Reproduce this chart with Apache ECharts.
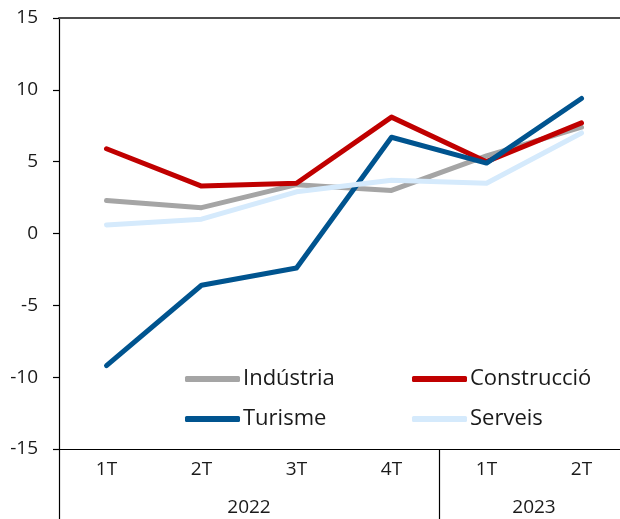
<!DOCTYPE html>
<html>
<head>
<meta charset="utf-8">
<script src="https://cdn.jsdelivr.net/npm/echarts@6/dist/echarts.min.js"></script>
<style>
  html, body { margin: 0; padding: 0; background: #fff; overflow: hidden; }
  #chart { width: 633px; height: 519px; }
</style>
</head>
<body>
<div id="chart"></div>
<script>
// Quarterly year-on-year change by sector (%)
const quarters = ['1T', '2T', '3T', '4T', '1T', '2T'];
const yearSlots = ['', '', '', '', '2022', '', '', '', '', '', '2023', '', ''];
const industria = [2.3, 1.8, 3.4, 3.0, 5.4, 7.4];
const construccio = [5.9, 3.3, 3.5, 8.1, 5.0, 7.7];
const turisme = [-9.2, -3.6, -2.4, 6.7, 4.9, 9.4];
const serveis = [0.6, 1.0, 2.9, 3.7, 3.5, 7.0];
const yTicks = [-15, -10, -5, 0, 5, 10, 15];

const FONT = '"Open Sans", "Noto Sans", sans-serif';
const TXT = '#1a1a1a';

const seriesDefs = [
  { name: 'Indústria', data: industria, color: '#a5a5a5' },
  { name: 'Construcció', data: construccio, color: '#c00000' },
  { name: 'Turisme', data: turisme, color: '#00548f' },
  { name: 'Serveis', data: serveis, color: '#d5eafc' }
];

const legendPos = [
  { left: 185, top: 368 },
  { left: 412, top: 368 },
  { left: 185, top: 408 },
  { left: 412, top: 408 }
];

const chart = echarts.init(document.getElementById('chart'), null, { renderer: 'canvas' });

chart.setOption({
  animation: false,
  backgroundColor: '#ffffff',
  grid: { left: 59, top: 18, width: 570, bottom: 70, containLabel: false },
  legend: seriesDefs.map((s, i) => ({
    data: [s.name],
    left: legendPos[i].left,
    top: legendPos[i].top,
    orient: 'horizontal',
    icon: 'roundRect',
    itemWidth: 55,
    itemHeight: 6,
    itemGap: 0,
    padding: 0,
    textStyle: { fontFamily: FONT, fontSize: 22, color: TXT, padding: [0, 0, 0, -2] }
  })),
  xAxis: [
    {
      // quarter labels along the bottom, with year separators extending down
      type: 'category',
      data: quarters,
      position: 'bottom',
      boundaryGap: true,
      axisLine: { show: true, onZero: false, lineStyle: { color: '#000', width: 1.2 } },
      axisTick: {
        show: true,
        alignWithLabel: false,
        interval: (idx) => idx === 0 || idx === 4,
        length: 72,
        lineStyle: { color: '#000', width: 1.2 }
      },
      axisLabel: { fontFamily: FONT, fontSize: 19, color: TXT, margin: 11 },
      splitLine: { show: false }
    },
    {
      // year labels, centred under each year's quarters
      type: 'category',
      data: yearSlots,
      position: 'bottom',
      boundaryGap: false,
      offset: 38,
      axisLine: { show: false },
      axisTick: { show: false },
      axisLabel: { interval: 0, fontFamily: FONT, fontSize: 19, color: TXT, margin: 11 },
      splitLine: { show: false }
    },
    {
      // zero line
      type: 'category',
      data: quarters,
      axisLine: { show: true, onZero: true, lineStyle: { color: '#000', width: 1.2 } },
      axisTick: { show: false },
      axisLabel: { show: false },
      splitLine: { show: false }
    },
    {
      // top border at 15
      type: 'category',
      data: quarters,
      position: 'top',
      axisLine: { show: true, onZero: false, lineStyle: { color: '#4d4d4d', width: 2 } },
      axisTick: { show: false },
      axisLabel: { show: false },
      splitLine: { show: false }
    }
  ],
  yAxis: {
    type: 'value',
    min: yTicks[0],
    max: yTicks[yTicks.length - 1],
    interval: 5,
    axisLine: { show: true, lineStyle: { color: '#000', width: 1.2 } },
    axisTick: { show: true, length: 6, lineStyle: { color: '#000', width: 1.2 } },
    axisLabel: { fontFamily: FONT, fontSize: 19, color: TXT, margin: 21 },
    splitLine: { show: false }
  },
  series: seriesDefs.map((s) => ({
    name: s.name,
    type: 'line',
    xAxisIndex: 0,
    data: s.data,
    symbol: 'none',
    smooth: false,
    itemStyle: { color: s.color },
    lineStyle: { color: s.color, width: 5, cap: 'round', join: 'round' }
  }))
});
</script>
</body>
</html>
